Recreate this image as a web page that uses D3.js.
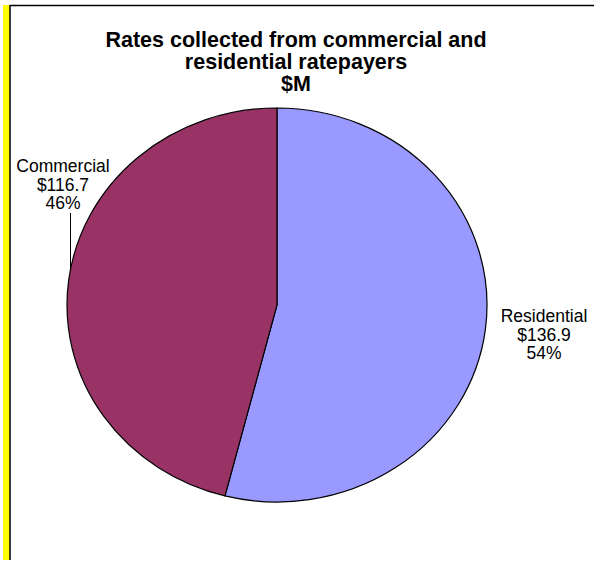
<!DOCTYPE html>
<html>
<head>
<meta charset="utf-8">
<script src="https://cdn.jsdelivr.net/npm/d3@7"></script>
<style>
  body { margin: 0; background: #fff; }
  svg { display: block; }
</style>
</head>
<body>
<svg id="pie" width="594" height="561"></svg>
<script>
const titleLines = ["Rates collected from commercial and", "residential ratepayers", "$M"];
const categories = ["Residential", "Commercial"];
const values = [136.9, 116.7];
const percents = ["54%", "46%"];
const colors = ["#9999ff", "#993366"];

const width = 594, height = 561;
const cx = 277, cy = 305;
const rx = 210, ry = 197;

const svg = d3.select("svg#pie");

// frame: yellow strip and black edges
svg.append("rect")
  .attr("x", 3).attr("y", 5)
  .attr("width", 7).attr("height", 555)
  .attr("fill", "#ffff00");
svg.append("line")
  .attr("x1", 10).attr("x2", 10)
  .attr("y1", 5).attr("y2", 560)
  .attr("stroke", "#000").attr("stroke-width", 1.5);
svg.append("line")
  .attr("x1", 10).attr("x2", width)
  .attr("y1", 5.5).attr("y2", 5.5)
  .attr("stroke", "#000").attr("stroke-width", 1.5);

// title
svg.append("g")
    .attr("font-family", "Arial, 'Liberation Sans', sans-serif")
    .attr("font-size", 21.5)
    .attr("font-weight", "bold")
    .attr("text-anchor", "middle")
  .selectAll("text")
  .data(titleLines)
  .join("text")
    .attr("x", 296)
    .attr("y", (d, i) => 47 + i * 22)
    .text(d => d);

// pie (drawn as a circle then squashed a little vertically)
const data = categories.map((c, i) => ({name: c, value: values[i], pct: percents[i], color: colors[i]}));
const pie = d3.pie().sort(null).value(d => d.value);
const arc = d3.arc().innerRadius(0).outerRadius(rx);
const arcs = pie(data);

svg.append("g")
    .attr("transform", `translate(${cx},${cy}) scale(1,${ry / rx})`)
  .selectAll("path")
  .data(arcs)
  .join("path")
    .attr("d", arc)
    .attr("fill", d => d.data.color)
    .attr("stroke", "#000")
    .attr("stroke-width", 1.2)
    .attr("vector-effect", "non-scaling-stroke");

// labels
const labelPos = {
  "Residential": [544, 322],
  "Commercial": [63, 172]
};
const labels = svg.append("g")
    .attr("font-family", "Arial, 'Liberation Sans', sans-serif")
    .attr("font-size", 17.5)
    .attr("fill", "#000")
    .attr("text-anchor", "middle");

labels.selectAll("text")
  .data(arcs)
  .join("text")
    .attr("x", d => labelPos[d.data.name][0])
    .attr("y", d => labelPos[d.data.name][1])
  .selectAll("tspan")
  .data(d => [d.data.name, "$" + d3.format(".1f")(d.data.value), d.data.pct])
  .join("tspan")
    .attr("x", function() { return this.parentNode.getAttribute("x"); })
    .attr("dy", (d, i) => i === 0 ? 0 : 18.5)
    .text(d => d);

// leader line for Commercial
const leaderX = 70.5;
const edgeY = cy - ry * Math.sqrt(1 - Math.pow((cx - leaderX) / rx, 2));
svg.append("line")
  .attr("x1", leaderX).attr("x2", leaderX)
  .attr("y1", 213).attr("y2", edgeY)
  .attr("stroke", "#000").attr("stroke-width", 1);
</script>
</body>
</html>
